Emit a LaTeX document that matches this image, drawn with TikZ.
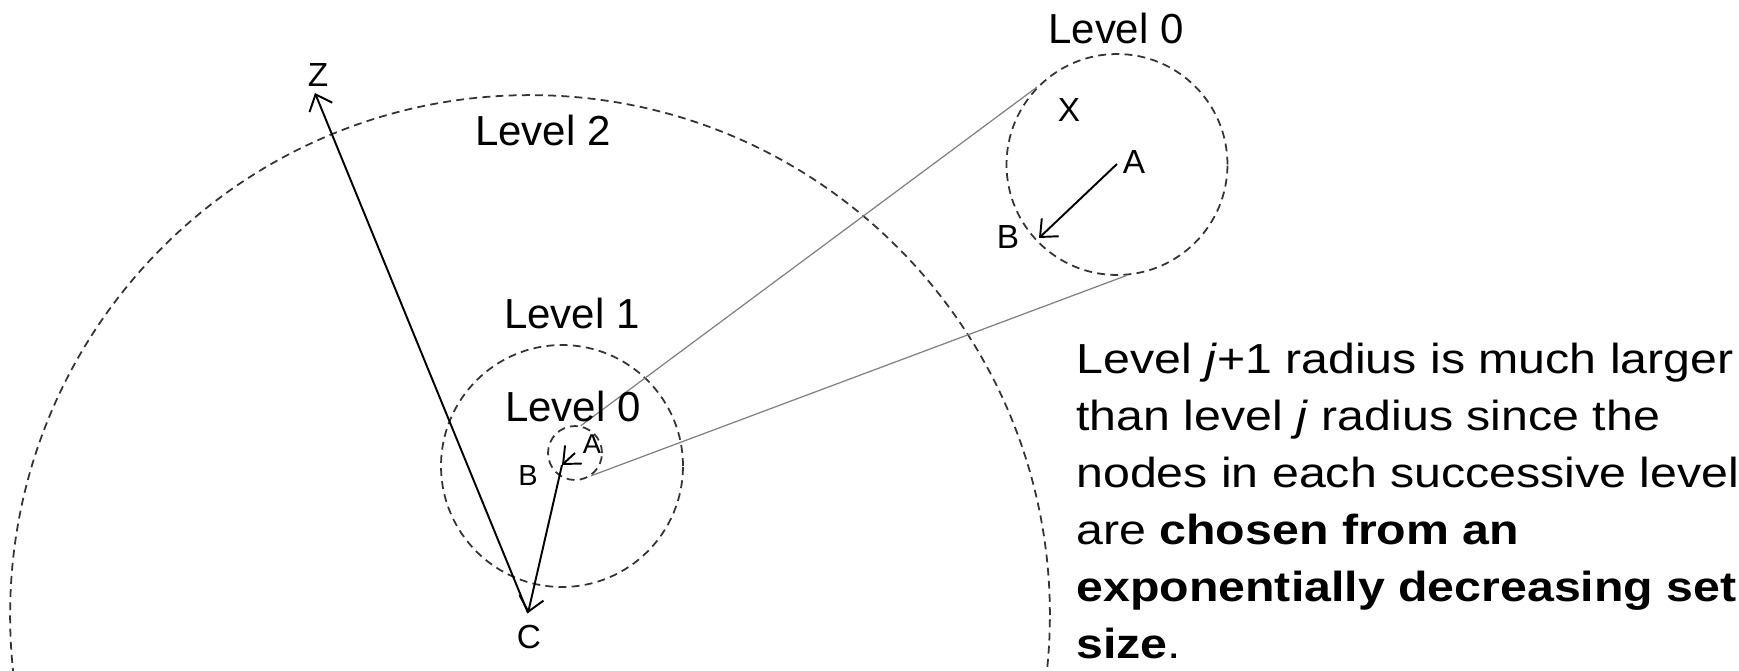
\documentclass[tikz,border=0pt]{standalone}
\usepackage{fontspec}
\setmainfont{Liberation Sans}
\newfontfamily\widefont[FakeStretch=1.15]{Liberation Sans}
\usetikzlibrary{arrows.meta}
\tikzset{
  levelring/.style={
    circle,
    draw=black!80,
    line width=1pt,
    dash pattern=on 4.5pt off 3pt,
    inner sep=0pt
  },
  hoparrow/.style={
    -{Straight Barb[length=8pt,width=14pt]},
    line width=1.1pt
  },
  zoomline/.style={
    draw=gray,
    line width=0.7pt
  },
  levellabel/.style={
    anchor=base,
    inner sep=0pt,
    font=\fontsize{23.9}{28}\selectfont
  },
  pointlabel/.style={
    anchor=base,
    inner sep=0pt,
    font=\fontsize{19}{22}\selectfont
  },
  tinylabel/.style={
    pointlabel,
    font=\fontsize{15.5}{18}\selectfont
  }
}

\begin{document}
\begin{tikzpicture}[x=0.02cm, y=-0.02cm]
    \useasboundingbox (0,0) rectangle (1739,670);
    \clip (0,0) rectangle (1739,670);

    % rings
    \node[levelring, minimum size=20.8cm] (ringTwo) at (530,615) {};
    \node[levelring, minimum size=4.84cm] (ringOne) at (562,466) {};
    \node[levelring, minimum size=1.08cm] (ringZeroNear) at (575,453) {};
    \node[levelring, minimum size=4.42cm] (ringZeroFar) at (1117,164.5) {};

    % zoom lines
    \draw[zoomline] (ringZeroNear.78) -- (ringZeroFar.136);
    \draw[zoomline] (ringZeroNear.-55) -- (ringZeroFar.-85);

    % hops
    \coordinate (ptA) at (575,453);
    \coordinate (ptB) at (562,465);
    \coordinate (ptC) at (528,613);
    \coordinate (ptZ) at (315,93);
    \coordinate (farA) at (1117,164);
    \coordinate (farB) at (1039,238);
    \draw[hoparrow] (ptA) -- (ptB);
    \draw[hoparrow] (ptB) -- (ptC);
    \draw[hoparrow] (ptC) -- (ptZ);
    \draw[hoparrow] (farA) -- (farB);

    % labels
    \node[levellabel] (lblTwo) at (543,145) {Level 2};
    \node[levellabel] (lblOne) at (572,328) {Level 1};
    \node[levellabel] (lblZeroNear) at (573,421) {Level 0};
    \node[levellabel] (lblZeroFar) at (1116,43) {Level 0};
    \node[pointlabel] (lblX) at (1069,121) {X};
    \node[pointlabel] (lblFarA) at (1134,173) {A};
    \node[pointlabel] (lblFarB) at (1008,248) {B};
    \node[pointlabel] (lblZ) at (318,86) {Z};
    \node[pointlabel] (lblC) at (529,648) {C};
    \node[tinylabel] (lblA) at (592,453) {A};
    \node[tinylabel, font=\fontsize{16.5}{19}\selectfont] (lblB) at (528,485) {B};

    \node[anchor=north west, inner sep=0pt, align=left,
          font=\widefont\fontsize{23.9}{32.4}\selectfont] (caption) at (1076,343) {
        Level \textit{j}+1 radius is much larger\\
        than level \textit{j} radius since the\\
        nodes in each successive level\\
        are \textbf{chosen from an}\\
        \textbf{exponentially decreasing set}\\
        \textbf{size}.
    };
\end{tikzpicture}
\end{document}
